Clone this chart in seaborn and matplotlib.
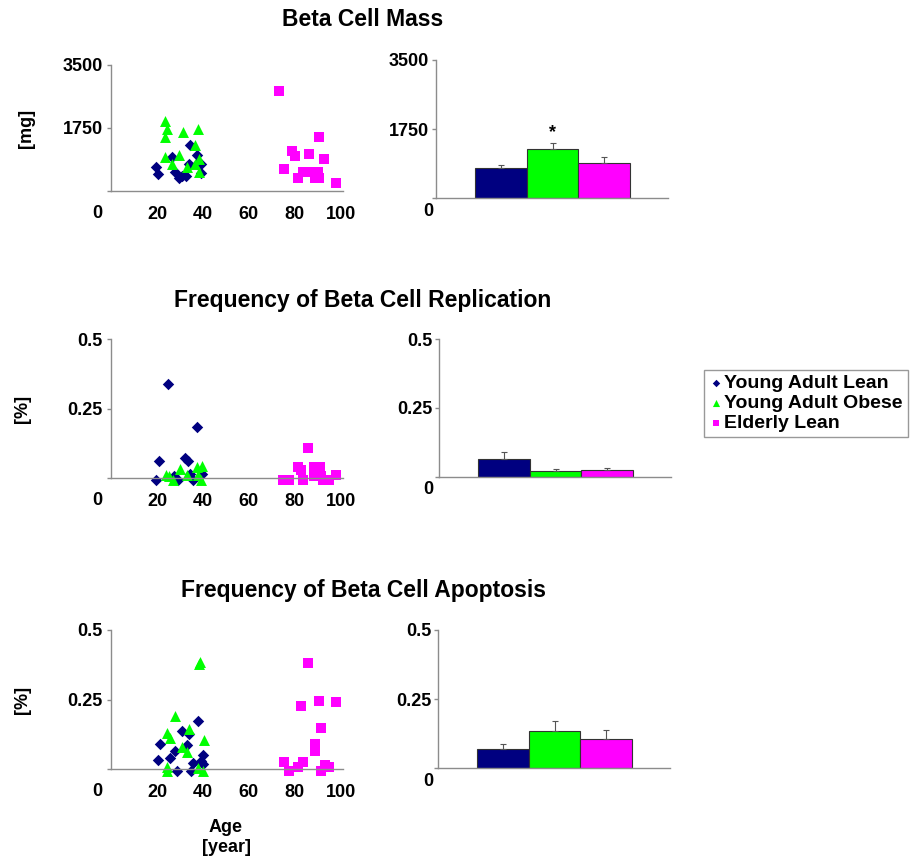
import matplotlib
matplotlib.use('Agg')
import numpy as np
import pandas as pd
import matplotlib.pyplot as plt
import seaborn as sns

# group names and colours
groups = ["Young Adult Lean", "Young Adult Obese", "Elderly Lean"]
colors = ["#000080", "#00FF00", "#FF00FF"]
markers = ["D", "^", "s"]

# ---- Beta cell mass (scatter) ----
mass_yl_age = [19.6, 20.4, 26.4, 27.7, 29.6, 32.6, 33.8, 34.5, 37.3, 37.3, 39.0, 39.0, 30.8]
mass_yl_val = [672, 460, 949, 534, 350, 424, 737, 1271, 995, 737, 737, 488, 424]
mass_yo_age = [23.4, 24.4, 23.4, 31.4, 37.8, 36.7, 23.4, 29.6, 26.7, 32.9, 36.7, 38.5, 38.5]
mass_yo_val = [1934, 1713, 1501, 1639, 1713, 1271, 949, 1013, 737, 672, 737, 884, 516]
mass_el_age = [73.3, 75.3, 79.0, 80.0, 86.4, 90.4, 92.6, 81.5, 83.4, 87.4, 88.9, 89.9, 90.7, 97.8]
mass_el_val = [2772, 599, 1105, 976, 1041, 1501, 884, 350, 516, 516, 350, 516, 350, 212]

# ---- Replication (scatter) ----
rep_yl_age = [24.9, 37.3, 20.7, 32.3, 33.5, 19.7, 27.4, 29.3, 34.4, 35.6, 39.7]
rep_yl_val = [0.338, 0.182, 0.062, 0.072, 0.062, -0.006, 0.006, -0.006, 0.016, -0.006, 0.016]
rep_yo_age = [24.0, 25.2, 27.0, 30.0, 32.9, 37.3, 39.7, 37.8, 39.3]
rep_yo_val = [0.012, 0.006, -0.006, 0.032, 0.010, 0.038, 0.042, 0.010, -0.006]
rep_el_age = [74.8, 77.3, 81.2, 82.5, 83.4, 85.6, 88.4, 90.8, 88.4, 91.4, 92.3, 94.8, 98.0]
rep_el_val = [-0.006, -0.006, 0.038, 0.028, -0.006, 0.108, 0.038, 0.038, 0.006, 0.006, -0.006, -0.006, 0.010]

# ---- Apoptosis (scatter) ----
apo_yl_age = [21.2, 20.4, 25.6, 27.7, 30.7, 32.9, 33.8, 37.8, 35.9, 28.9, 34.8, 40.0, 39.3, 40.0]
apo_yl_val = [0.090, 0.032, 0.038, 0.065, 0.138, 0.086, 0.126, 0.173, 0.020, -0.006, -0.006, 0.050, 0.030, 0.018]
apo_yo_age = [38.8, 38.2, 27.7, 24.4, 25.6, 34.1, 30.7, 32.9, 40.3, 24.4, 24.4, 37.8, 40.0]
apo_yo_val = [0.386, 0.377, 0.191, 0.128, 0.110, 0.143, 0.080, 0.062, 0.104, 0.008, -0.008, 0.002, -0.008]
apo_el_age = [85.6, 82.5, 90.7, 98.0, 91.6, 88.9, 88.9, 75.1, 77.3, 81.5, 83.4, 91.6, 93.3, 94.8]
apo_el_val = [0.383, 0.227, 0.245, 0.240, 0.146, 0.090, 0.065, 0.026, -0.006, 0.008, 0.026, -0.006, 0.014, 0.008]

# ---- bar means and SEM ----
mass_mean = [761, 1243, 888]
mass_err = [76, 152, 152]
rep_mean = [0.065, 0.022, 0.025]
rep_err = [0.025, 0.007, 0.008]
apo_mean = [0.069, 0.134, 0.105]
apo_err = [0.018, 0.036, 0.033]

titles = ["Beta Cell Mass", "Frequency of Beta Cell Replication", "Frequency of Beta Cell Apoptosis"]
ylabels = ["[mg]", "[%]", "[%]"]
ymax = [3500, 0.5, 0.5]
ytick_labels = [["", "1750", "3500"], ["", "0.25", "0.5"], ["", "0.25", "0.5"]]


def scatter_df(yl_a, yl_v, yo_a, yo_v, el_a, el_v):
    rows = []
    for g, a, v in zip(groups, [yl_a, yo_a, el_a], [yl_v, yo_v, el_v]):
        rows += [(g, x, y) for x, y in zip(a, v)]
    return pd.DataFrame(rows, columns=["group", "age", "value"])


scatter_data = [
    scatter_df(mass_yl_age, mass_yl_val, mass_yo_age, mass_yo_val, mass_el_age, mass_el_val),
    scatter_df(rep_yl_age, rep_yl_val, rep_yo_age, rep_yo_val, rep_el_age, rep_el_val),
    scatter_df(apo_yl_age, apo_yl_val, apo_yo_age, apo_yo_val, apo_el_age, apo_el_val),
]
bar_data = [(mass_mean, mass_err), (rep_mean, rep_err), (apo_mean, apo_err)]

sns.set_style("white")
plt.rcParams['font.family'] = ['Liberation Sans', 'DejaVu Sans']
plt.rcParams['font.weight'] = 'bold'
plt.rcParams['text.color'] = 'black'
plt.rcParams['xtick.labelcolor'] = 'black'
plt.rcParams['ytick.labelcolor'] = 'black'

fig = plt.figure(figsize=(9.13, 8.6), dpi=100)
W, H = 913, 860

# pixel layout: (axis bottom y, axis top y) per row
rows_px = [(191, 65), (478, 339), (769, 630)]
bar_rows_px = [(198, 60), (477, 339), (768, 630)]
bar_left = [436, 439, 438]
title_y = [20, 300, 590]
ylabel_x = [27, 22, 22]

TICK_FS = 13
spine_col = "#8c8c8c"
pal = dict(zip(groups, colors))
mk = dict(zip(groups, markers))
sizes = {"Young Adult Lean": 34, "Young Adult Obese": 62, "Elderly Lean": 56}
handles = None

for i in range(3):
    b, t = rows_px[i]
    ax = fig.add_axes([111 / W, (H - b) / H, 232 / W, (b - t) / H])
    df = scatter_data[i]
    for g in groups:
        sub = df[df.group == g]
        sns.scatterplot(data=sub, x="age", y="value", color=pal[g], marker=mk[g],
                        s=sizes[g], linewidth=0, ax=ax, label=g, clip_on=False)
    if i == 1:
        handles, labels = ax.get_legend_handles_labels()
    ax.get_legend().remove()
    ax.set_xlim(0, 101)
    ax.set_ylim(0, ymax[i])
    ax.set_xticks([20, 40, 60, 80, 100])
    ax.set_yticks([0, ymax[i] / 2, ymax[i]])
    ax.set_yticklabels(ytick_labels[i])
    ax.set_xlabel("")
    ax.set_ylabel("")
    for s in ["top", "right"]:
        ax.spines[s].set_visible(False)
    for s in ["left", "bottom"]:
        ax.spines[s].set_color(spine_col)
        ax.spines[s].set_linewidth(1)
    ax.tick_params(axis="y", length=3, width=1, color=spine_col, pad=3, labelsize=TICK_FS)
    ax.tick_params(axis="x", length=0, pad=11, labelsize=TICK_FS)
    ax.tick_params(left=True)
    for lab in ax.get_xticklabels() + ax.get_yticklabels():
        lab.set_fontweight("bold")
    fig.text(97 / W, 1 - (b + 22) / H, "0", ha="center", va="center", fontsize=TICK_FS, fontweight="bold")
    fig.text(ylabel_x[i] / W, 1 - ((b + t) / 2) / H, ylabels[i], rotation=90,
             ha="center", va="center", fontsize=TICK_FS, fontweight="bold")
    fig.text(363 / W, 1 - title_y[i] / H, titles[i], ha="center", va="center",
             fontsize=16.5, fontweight="bold")

    # bar panel
    bb, bt = bar_rows_px[i]
    bx = fig.add_axes([bar_left[i] / W, (H - bb) / H, 232 / W, (bb - bt) / H])
    means, errs = bar_data[i]
    bdf = pd.DataFrame({"group": groups, "mean": means})
    sns.barplot(data=bdf, x="group", y="mean", hue="group", palette=pal, width=1,
                saturation=1, edgecolor="#333333", linewidth=0.8, errorbar=None,
                legend=False, ax=bx)
    bx.errorbar(range(3), means, yerr=[[0, 0, 0], errs], fmt="none", ecolor="#555555",
                elinewidth=0.8, capsize=2, capthick=0.8)
    bx.set_xlim(-1.25, 3.23)
    bx.set_ylim(0, ymax[i])
    bx.set_xticks([])
    bx.set_yticks([0, ymax[i] / 2, ymax[i]])
    bx.set_yticklabels(ytick_labels[i])
    bx.set_xlabel("")
    bx.set_ylabel("")
    for s in ["top", "right"]:
        bx.spines[s].set_visible(False)
    for s in ["left", "bottom"]:
        bx.spines[s].set_color(spine_col)
        bx.spines[s].set_linewidth(1)
    bx.tick_params(axis="y", length=3, width=1, color=spine_col, pad=2, labelsize=TICK_FS, left=True)
    for lab in bx.get_yticklabels():
        lab.set_fontweight("bold")
    fig.text(428 / W, 1 - (bb + 13) / H, "0", ha="center", va="center", fontsize=TICK_FS, fontweight="bold")
    if i == 0:
        bx.text(1, means[1] + errs[1] + 50, "*", ha="center", va="bottom",
                fontsize=13, fontweight="bold")

fig.text(226 / W, 1 - 828 / H, "Age", ha="center", va="center", fontsize=TICK_FS, fontweight="bold")
fig.text(226 / W, 1 - 848 / H, "[year]", ha="center", va="center", fontsize=TICK_FS, fontweight="bold")

leg = fig.legend(handles, labels, loc="upper left", bbox_to_anchor=(704 / W, 1 - 370 / H),
                 frameon=True, fancybox=False, edgecolor="#808080", handletextpad=0.1,
                 handlelength=0.7, borderpad=0.25, labelspacing=0.12, borderaxespad=0,
                 prop={"size": 14, "weight": "bold"}, markerscale=0.65)
leg.get_frame().set_linewidth(1)

fig.savefig("out.png", dpi=100)
